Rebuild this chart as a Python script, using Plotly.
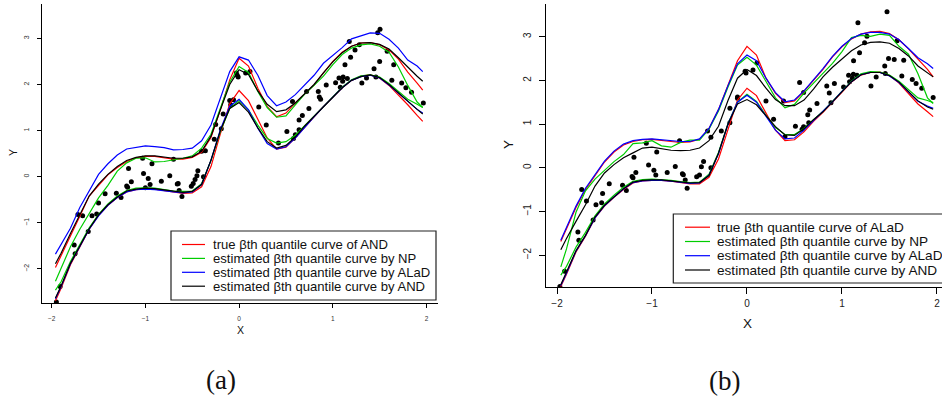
import plotly.graph_objects as go

# ---------------------------------------------------------------------------
# Data
# ---------------------------------------------------------------------------
X_GRID = [-1.96, -1.9, -1.8, -1.7, -1.6, -1.5, -1.4, -1.3, -1.2, -1.1, -1.0,
          -0.9, -0.8, -0.7, -0.6, -0.5, -0.4, -0.3, -0.2, -0.1, 0.0,
          0.1, 0.2, 0.3, 0.4, 0.5, 0.6, 0.7, 0.8, 0.9, 1.0,
          1.1, 1.2, 1.3, 1.4, 1.5, 1.6, 1.7, 1.8, 1.9, 1.96]

# panel (a): AND errors -- lower / upper quantile curves
A_TRUE_LO = [-2.69, -2.42, -1.91, -1.51, -1.14, -0.84, -0.62, -0.45, -0.33, -0.28, -0.26,
             -0.27, -0.30, -0.33, -0.36, -0.35, -0.22, 0.22, 0.93, 1.58, 1.87,
             1.65, 1.25, 0.84, 0.60, 0.64, 0.84, 1.08, 1.30, 1.52, 1.73,
             1.93, 2.09, 2.18, 2.21, 2.14, 1.98, 1.78, 1.56, 1.33, 1.20]
A_TRUE_HI = [-1.97, -1.72, -1.27, -0.86, -0.42, -0.18, 0.04, 0.20, 0.33, 0.41, 0.44,
             0.44, 0.41, 0.38, 0.38, 0.42, 0.53, 0.85, 1.45, 2.10, 2.57,
             2.40, 1.92, 1.52, 1.30, 1.38, 1.60, 1.80, 1.99, 2.25, 2.50,
             2.70, 2.83, 2.90, 2.91, 2.86, 2.75, 2.55, 2.27, 2.03, 1.88]
A_NP_LO = [-2.46, -2.28, -1.84, -1.47, -1.11, -0.82, -0.59, -0.42, -0.30, -0.25, -0.24,
           -0.25, -0.28, -0.31, -0.32, -0.31, -0.15, 0.35, 0.98, 1.48, 1.65,
           1.45, 1.12, 0.83, 0.73, 0.76, 0.90, 1.10, 1.31, 1.52, 1.73,
           1.94, 2.10, 2.19, 2.21, 2.16, 2.02, 1.84, 1.68, 1.57, 1.50]
A_NP_HI = [-2.27, -1.99, -1.52, -1.14, -0.80, -0.46, -0.19, 0.12, 0.30, 0.40, 0.41,
           0.32, 0.33, 0.36, 0.40, 0.45, 0.62, 0.92, 1.50, 2.05, 2.39,
           2.26, 1.85, 1.50, 1.29, 1.32, 1.56, 1.79, 1.98, 2.18, 2.43,
           2.65, 2.79, 2.86, 2.88, 2.83, 2.70, 2.38, 1.98, 1.62, 1.50]
A_ALAD_LO = [-2.65, -2.39, -1.89, -1.50, -1.14, -0.85, -0.62, -0.45, -0.33, -0.28, -0.27,
             -0.28, -0.31, -0.33, -0.35, -0.33, -0.17, 0.36, 1.02, 1.53, 1.68,
             1.45, 1.05, 0.72, 0.60, 0.65, 0.84, 1.08, 1.30, 1.52, 1.73,
             1.93, 2.09, 2.17, 2.20, 2.14, 1.99, 1.81, 1.62, 1.46, 1.38]
A_ALAD_HI = [-1.68, -1.48, -1.12, -0.67, -0.31, 0.05, 0.28, 0.47, 0.60, 0.63, 0.67,
             0.65, 0.63, 0.58, 0.59, 0.62, 0.78, 1.12, 1.68, 2.28, 2.60,
             2.53, 2.20, 1.76, 1.54, 1.62, 1.78, 1.98, 2.20, 2.46, 2.62,
             2.80, 2.99, 3.06, 3.12, 3.11, 2.98, 2.79, 2.53, 2.40, 2.28]
A_AND_LO = [-2.63, -2.37, -1.88, -1.49, -1.13, -0.83, -0.61, -0.44, -0.31, -0.27, -0.25,
            -0.26, -0.29, -0.32, -0.34, -0.32, -0.17, 0.36, 1.00, 1.48, 1.61,
            1.40, 1.06, 0.76, 0.62, 0.68, 0.86, 1.10, 1.31, 1.52, 1.73,
            1.93, 2.09, 2.17, 2.21, 2.15, 2.00, 1.83, 1.64, 1.46, 1.36]
A_AND_HI = [-1.89, -1.66, -1.23, -0.84, -0.42, -0.16, 0.05, 0.22, 0.35, 0.42, 0.45,
            0.45, 0.43, 0.40, 0.40, 0.43, 0.55, 0.88, 1.45, 2.00, 2.32,
            2.22, 1.86, 1.57, 1.41, 1.45, 1.60, 1.80, 2.00, 2.25, 2.49,
            2.69, 2.83, 2.90, 2.91, 2.87, 2.77, 2.58, 2.37, 2.18, 2.07]

A_PTS_X = [-1.95, -1.91, -1.76, -1.75, -1.72, -1.67, -1.61, -1.57, -1.52, -1.50,
           -1.43, -1.31, -1.26, -1.20, -1.19, -1.15, -1.18, -1.03, -1.02, -0.97,
           -0.93, -0.95, -1.00, -0.83, -0.74, -0.70, -0.66, -0.65, -0.64, -0.61,
           -0.51, -0.49, -0.47, -0.45, -0.44, -0.40, -0.36, -0.38, -0.265, -0.25,
           -0.19, -0.17, -0.10, -0.09, -0.06, -0.03, -0.02, -0.01, 0.07, 0.116,
           0.21, 0.29, 0.42, 0.51, 0.57, 0.58, 0.60, 0.64, 0.64, 0.675,
           0.745, 0.72, 0.845, 0.856, 0.87, 0.93, 1.03, 1.066, 1.11, 1.155,
           1.105, 1.08, 1.13, 1.176, 1.237, 1.19, 1.283, 1.31, 1.36, 1.46,
           1.44, 1.50, 1.479, 1.504, 1.58, 1.65, 1.63, 1.735, 1.78, 1.84, 1.966]
A_PTS_Y = [-2.72, -2.38, -1.48, -1.67, -0.82, -0.85, -1.19, -0.85, -0.81, -0.57,
           -0.37, -0.36, -0.45, -0.20, -0.23, -0.11, 0.18, 0.40, 0.07, -0.04,
           0.28, -0.17, -0.24, -0.10, 0.02, 0.38, -0.16, -0.15, -0.30, -0.43,
           -0.21, -0.15, -0.06, 0.02, 0.13, 0.55, 0.56, 0.00, 0.81, 1.13,
           1.04, 1.36, 1.65, 1.56, 1.67, 2.25, 2.20, 2.16, 2.25, 2.28,
           1.51, 1.12, 0.73, 0.98, 1.63, 0.83, 0.91, 1.02, 1.23, 1.33,
           1.48, 1.85, 1.85, 1.73, 1.68, 1.99, 2.04, 2.14, 2.16, 2.13,
           2.07, 1.94, 2.43, 2.93, 2.75, 2.59, 2.86, 2.03, 2.14, 2.16,
           2.34, 2.50, 3.12, 3.20, 2.72, 2.43, 2.09, 2.03, 1.93, 1.83, 1.60]

# panel (b): ALaD errors -- lower / upper quantile curves
B_TRUE_LO = [-2.72, -2.44, -1.93, -1.57, -1.15, -0.88, -0.68, -0.50, -0.35, -0.30, -0.29,
             -0.29, -0.31, -0.34, -0.37, -0.37, -0.22, 0.20, 0.90, 1.55, 1.82,
             1.65, 1.25, 0.86, 0.62, 0.64, 0.82, 1.06, 1.27, 1.50, 1.74,
             1.96, 2.12, 2.18, 2.19, 2.11, 1.94, 1.71, 1.46, 1.28, 1.17]
B_TRUE_HI = [-1.69, -1.40, -0.91, -0.50, -0.19, 0.13, 0.36, 0.52, 0.60, 0.64, 0.65,
             0.62, 0.60, 0.58, 0.59, 0.65, 0.90, 1.33, 1.90, 2.45, 2.78,
             2.58, 2.05, 1.70, 1.49, 1.53, 1.75, 2.00, 2.25, 2.54, 2.77,
             2.95, 3.06, 3.11, 3.12, 3.07, 2.93, 2.72, 2.48, 2.25, 2.08]
B_NP_LO = [-2.46, -2.26, -1.82, -1.48, -1.10, -0.83, -0.63, -0.45, -0.31, -0.27, -0.26,
           -0.27, -0.29, -0.32, -0.34, -0.33, -0.15, 0.35, 1.01, 1.50, 1.68,
           1.52, 1.20, 0.92, 0.76, 0.76, 0.90, 1.10, 1.29, 1.52, 1.76,
           1.98, 2.15, 2.20, 2.19, 2.12, 1.98, 1.78, 1.60, 1.54, 1.49]
B_NP_HI = [-2.27, -1.86, -1.02, -0.53, -0.26, -0.05, 0.14, 0.30, 0.55, 0.57, 0.62,
           0.50, 0.47, 0.58, 0.63, 0.63, 0.88, 1.30, 1.85, 2.35, 2.53,
           2.35, 1.97, 1.60, 1.37, 1.45, 1.71, 1.93, 2.15, 2.39, 2.66,
           2.98, 3.03, 3.01, 3.06, 3.03, 2.78, 2.60, 2.15, 1.60, 1.47]
B_ALAD_LO = [-2.70, -2.42, -1.91, -1.56, -1.15, -0.87, -0.67, -0.49, -0.34, -0.30, -0.29,
             -0.29, -0.31, -0.34, -0.36, -0.35, -0.17, 0.32, 1.00, 1.50, 1.66,
             1.50, 1.18, 0.86, 0.66, 0.68, 0.86, 1.08, 1.28, 1.51, 1.75,
             1.97, 2.13, 2.18, 2.18, 2.10, 1.95, 1.73, 1.52, 1.41, 1.36]
B_ALAD_HI = [-1.66, -1.37, -0.88, -0.47, -0.16, 0.15, 0.38, 0.54, 0.62, 0.65, 0.66,
             0.64, 0.62, 0.60, 0.60, 0.66, 0.90, 1.33, 1.88, 2.38, 2.58,
             2.45, 2.05, 1.72, 1.51, 1.55, 1.76, 2.01, 2.27, 2.55, 2.78,
             2.96, 3.06, 3.10, 3.10, 3.06, 2.93, 2.73, 2.52, 2.38, 2.27]
B_AND_LO = [-2.68, -2.40, -1.90, -1.55, -1.13, -0.86, -0.66, -0.48, -0.33, -0.29, -0.28,
            -0.28, -0.30, -0.33, -0.35, -0.34, -0.18, 0.33, 1.00, 1.46, 1.56,
            1.44, 1.19, 0.94, 0.75, 0.74, 0.89, 1.10, 1.28, 1.51, 1.75,
            1.97, 2.13, 2.18, 2.18, 2.11, 1.96, 1.75, 1.53, 1.39, 1.34]
B_AND_HI = [-1.88, -1.62, -1.23, -0.85, -0.42, -0.12, 0.07, 0.23, 0.34, 0.45, 0.47,
            0.43, 0.40, 0.39, 0.40, 0.45, 0.62, 0.95, 1.54, 2.05, 2.25,
            2.11, 1.82, 1.56, 1.42, 1.42, 1.55, 1.80, 2.08, 2.30, 2.50,
            2.68, 2.81, 2.87, 2.88, 2.85, 2.73, 2.56, 2.33, 2.17, 2.08]

B_PTS_X = [-1.97, -1.92, -1.78, -1.77, -1.74, -1.69, -1.62, -1.59, -1.53, -1.52,
           -1.45, -1.31, -1.27, -1.21, -1.20, -1.17, -1.19, -1.06, -1.036, -0.98,
           -0.95, -0.96, -0.84, -0.755, -0.71, -0.68, -0.67, -0.65, -0.63, -0.53,
           -0.50, -0.48, -0.457, -0.415, -0.38, -0.38, -0.27, -0.18, -0.18, -0.10,
           -0.10, -0.02, -0.01, 0.063, 0.105, 0.20, 0.28, 0.385, 0.40, 0.51,
           0.554, 0.58, 0.596, 0.596, 0.64, 0.65, 0.66, 0.737, 0.84, 0.866,
           0.884, 0.92, 1.017, 1.07, 1.08, 1.11, 1.12, 1.158, 1.122, 1.185,
           1.168, 1.238, 1.263, 1.305, 1.36, 1.456, 1.45, 1.49, 1.474, 1.55,
           1.58, 1.63, 1.65, 1.74, 1.78, 1.84, 1.96]
B_PTS_Y = [-2.72, -2.37, -1.47, -1.66, -0.50, -0.76, -1.20, -0.85, -0.80, -0.59,
           -0.37, -0.40, -0.52, -0.20, -0.23, -0.11, 0.24, 0.56, 0.06, -0.06,
           0.36, -0.17, -0.11, 0.03, 0.62, -0.14, -0.16, -0.28, -0.47, -0.21,
           -0.17, 0.02, 0.14, 0.84, 0.70, 0.00, 0.84, 1.03, 1.36, 1.62,
           1.59, 2.21, 2.17, 2.24, 2.40, 1.53, 1.11, 1.53, 0.71, 0.95,
           1.95, 0.88, 0.94, 1.72, 1.21, 1.03, 1.32, 1.47, 1.87, 1.71,
           1.49, 1.93, 1.85, 2.12, 1.97, 2.05, 2.14, 2.12, 2.45, 2.63,
           3.32, 2.86, 3.01, 1.87, 2.08, 2.16, 2.33, 2.50, 3.57, 2.48,
           2.91, 2.10, 2.46, 2.02, 1.93, 1.82, 1.61]

X_TICKS = [-2, -1, 0, 1, 2]
Y_TICKS = [-2, -1, 0, 1, 2, 3]

LEGEND_A = ["true \u03b2th quantile curve of AND",
            "estimated \u03b2th quantile curve by NP",
            "estimated \u03b2th quantile curve by ALaD",
            "estimated \u03b2th quantile curve by AND"]
LEGEND_B = ["true \u03b2th quantile curve of ALaD",
            "estimated \u03b2th quantile curve by NP",
            "estimated \u03b2th quantile curve by ALaD",
            "estimated \u03b2th quantile curve by AND"]
COLORS = ["#ff0000", "#00cd00", "#0000ff", "#000000"]

# ---------------------------------------------------------------------------
# Figure
# ---------------------------------------------------------------------------
W, H = 942, 398
FONT = "Liberation Sans, Arial, sans-serif"


def fx(p):
    return p / W


def fy(p):
    return 1 - p / H


fig = go.Figure()

panels = [
    ("x", "y", A_PTS_X, A_PTS_Y,
     [(A_TRUE_LO, A_TRUE_HI), (A_NP_LO, A_NP_HI), (A_ALAD_LO, A_ALAD_HI), (A_AND_LO, A_AND_HI)]),
    ("x2", "y2", B_PTS_X, B_PTS_Y,
     [(B_TRUE_LO, B_TRUE_HI), (B_NP_LO, B_NP_HI), (B_ALAD_LO, B_ALAD_HI), (B_AND_LO, B_AND_HI)]),
]

for xa, ya, px_, py_, curves in panels:
    fig.add_trace(go.Scatter(x=px_, y=py_, mode="markers", xaxis=xa, yaxis=ya,
                             marker=dict(size=5, color="black", line=dict(width=0)),
                             showlegend=False, hoverinfo="skip"))
    for (lo, hi), col in zip(curves, COLORS):
        for ys in (lo, hi):
            fig.add_trace(go.Scatter(x=X_GRID, y=ys, mode="lines", xaxis=xa, yaxis=ya,
                                     line=dict(color=col, width=1.2),
                                     showlegend=False, hoverinfo="skip"))

axis_common = dict(showline=True, linecolor="black", linewidth=1, ticks="outside",
                   tickcolor="black", showgrid=False, zeroline=False, mirror=False,
                   fixedrange=True)

fig.update_layout(
    width=W, height=H, autosize=False,
    margin=dict(l=0, r=0, t=0, b=0),
    paper_bgcolor="white", plot_bgcolor="white",
    showlegend=False,
    font=dict(family=FONT, color="black"),
    xaxis=dict(domain=[fx(42), fx(437.7)], range=[-2.1035, 2.1195], anchor="y",
               tickvals=X_TICKS, ticklen=4, tickwidth=1,
               tickfont=dict(size=6.5, color="#333"), ticklabelstandoff=5,
               **axis_common),
    yaxis=dict(domain=[fy(303), fy(4)], range=[-2.74, 3.746], anchor="x",
               tickvals=Y_TICKS, ticklen=4, tickwidth=1, tickangle=-90,
               tickfont=dict(size=7, color="#333"), ticklabelstandoff=5,
               **axis_common),
    xaxis2=dict(domain=[fx(545.7), 1.0], range=[-2.119, 2.053], anchor="y2",
                tickvals=X_TICKS, ticklen=6, tickwidth=1,
                tickfont=dict(size=10, color="#222"), ticklabelstandoff=1,
                **axis_common),
    yaxis2=dict(domain=[fy(287.3), fy(4)], range=[-2.739, 3.749], anchor="x2",
                tickvals=Y_TICKS, ticklen=6, tickwidth=1, tickangle=-90,
                tickfont=dict(size=10, color="#222"), ticklabelstandoff=4,
                **axis_common),
)

annotations = []
shapes = []


def text(x, y, s, size, angle=0, family=FONT, xanchor="center"):
    annotations.append(dict(x=fx(x), y=fy(y), xref="paper", yref="paper", text=s,
                            showarrow=False, textangle=angle, xanchor=xanchor,
                            yanchor="middle", borderpad=0,
                            font=dict(size=size, family=family, color="#111")))


# axis titles
text(240, 330, "X", 10.5)
text(13, 153, "Y", 10.5, angle=-90)
text(747, 323, "X", 13.5)
text(508, 145, "Y", 13.5, angle=-90)

# panel captions
text(221, 380, "(a)", 27, family="Liberation Serif, Times New Roman, serif")
text(724, 381, "(b)", 27, family="Liberation Serif, Times New Roman, serif")

# legend boxes
legends = [
    dict(box=(171, 231, 436, 300), rows=[244.5, 258.4, 272.3, 286.2],
         line=(182, 205), tx=211.5, size=13.1, labels=LEGEND_A),
    dict(box=(673.3, 214, 946, 283), rows=[227.2, 241.5, 255.7, 270.0],
         line=(685, 710), tx=716, size=13.6, labels=LEGEND_B),
]
for lg in legends:
    x0, y0, x1, y1 = lg["box"]
    shapes.append(dict(type="rect", xref="paper", yref="paper",
                       x0=fx(x0), x1=fx(x1), y0=fy(y1), y1=fy(y0),
                       line=dict(color="#222", width=1.2), fillcolor="white",
                       layer="above"))
    for ry, lab, col in zip(lg["rows"], lg["labels"], COLORS):
        shapes.append(dict(type="line", xref="paper", yref="paper",
                           x0=fx(lg["line"][0]), x1=fx(lg["line"][1]),
                           y0=fy(ry), y1=fy(ry),
                           line=dict(color=col, width=1.2), layer="above"))
        text(lg["tx"], ry, lab, lg["size"], xanchor="left")

fig.update_layout(annotations=annotations, shapes=shapes)

fig.write_html("out.html")
